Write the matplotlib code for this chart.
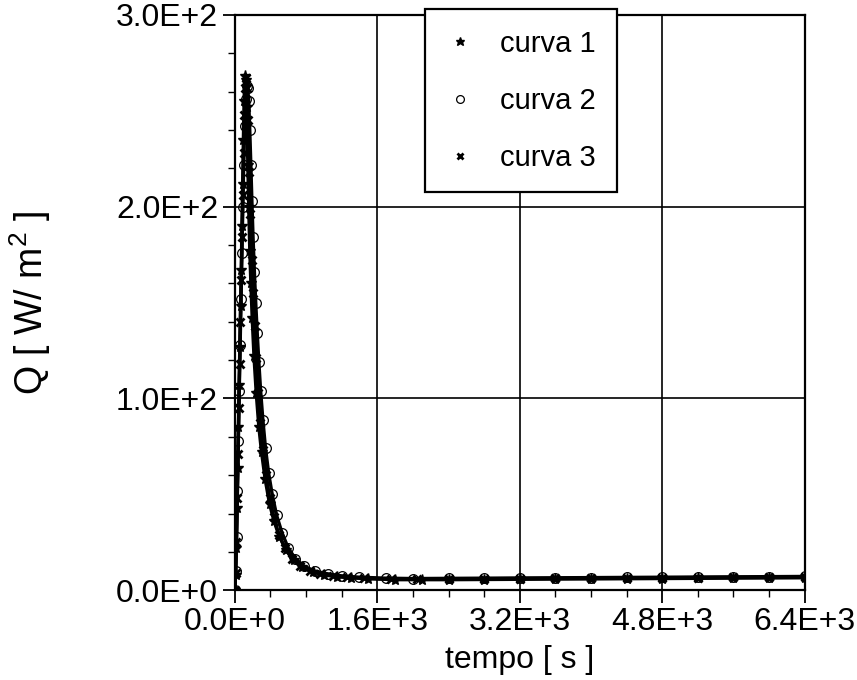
import matplotlib
matplotlib.use("Agg")
import matplotlib.pyplot as plt
from matplotlib.ticker import MultipleLocator, FuncFormatter
import math

plt.rcParams['font.family'] = ['Liberation Sans', 'DejaVu Sans']
plt.rcParams['mathtext.fontset'] = 'custom'
plt.rcParams['mathtext.rm'] = 'Liberation Sans'

# ---- data ----
t1 = [0, 8, 16, 24, 32, 40, 48, 56, 64, 72, 80, 88, 96, 104, 112, 124, 136, 146,
      156, 168, 180, 195, 215, 240, 270, 300, 340, 390, 440, 500, 580, 660, 760,
      880, 1000, 1150, 1300, 1500, 1800, 2100, 2400, 2800, 3200, 3600, 4000,
      4400, 4800, 5200, 5600, 6000, 6400]
q1 = [0, 8, 22, 43, 64, 85, 107, 127, 148, 167, 190, 212, 235, 255, 268, 266, 252, 222,
      200, 177, 160, 142, 122, 103, 85, 72, 58, 45, 36, 28, 21, 16, 12,
      9.5, 8, 7, 6.5, 6, 5.5, 5.5, 5.5, 5.6, 5.7, 5.8, 5.9,
      6.0, 6.1, 6.2, 6.3, 6.4, 6.5]

t2 = [0, 10, 20, 30, 40, 50, 60, 70, 80, 90, 100, 110, 120, 132, 144, 156, 168,
      180, 192, 205, 220, 235, 252, 270, 290, 315, 345, 380, 420, 470, 530, 600,
      680, 780, 900, 1050, 1200, 1400, 1700, 2000, 2400, 2800, 3200, 3600, 4000,
      4400, 4800, 5200, 5600, 6000, 6400]
q2 = [0, 10, 28, 52, 78, 104, 128, 152, 176, 200, 222, 242, 256, 263, 262, 255, 240,
      222, 203, 184, 166, 150, 134, 119, 104, 89, 74, 61, 50, 39, 30, 22,
      16.5, 12.5, 10, 8.5, 7.5, 6.8, 6.3, 6.1, 6.2, 6.3, 6.4, 6.5, 6.6,
      6.7, 6.8, 6.9, 7.0, 7.1, 7.2]

t3 = [0, 9, 18, 27, 36, 45, 54, 63, 72, 81, 90, 99, 108, 118, 128, 140, 152, 164,
      176, 190, 205, 222, 240, 262, 288, 318, 352, 392, 440, 495, 560, 640, 730,
      840, 960, 1100, 1260, 1450, 1750, 2050, 2400, 2800, 3200, 3600, 4000,
      4400, 4800, 5200, 5600, 6000, 6400]
q3 = [0, 9, 25, 48, 71, 95, 118, 140, 162, 184, 206, 228, 248, 262, 267, 262, 245, 218,
      196, 172, 155, 138, 121, 103, 87, 73, 60, 48, 38, 29, 22, 16.5, 12.5,
      10, 8.5, 7.5, 6.8, 6.2, 5.9, 5.8, 5.9, 6.0, 6.1, 6.2, 6.3,
      6.4, 6.5, 6.6, 6.7, 6.8, 6.9]

labels = ['curva 1', 'curva 2', 'curva 3']
x_ticks = [0, 1600, 3200, 4800, 6400]
y_ticks = [0, 100, 200, 300]

# ---- figure ----
fig = plt.figure(figsize=(8.57, 6.8), dpi=100)
ax = fig.add_axes([0.274, 0.132, 0.665, 0.846])

ax.plot(t2, q2, color='black', lw=2.4, marker='o', ms=7, mfc='none', mec='black',
        mew=0.9, label=labels[1], zorder=3)
ax.plot(t3, q3, color='black', lw=2.4, marker='x', ms=6, mew=2.0, label=labels[2], zorder=3)
ax.plot(t1, q1, color='black', lw=2.4, marker='*', ms=8, label=labels[0], zorder=4)

ax.set_xlim(0, 6400)
ax.set_ylim(0, 300)
ax.set_xticks(x_ticks)
ax.set_yticks(y_ticks)
ax.xaxis.set_minor_locator(MultipleLocator(400))
ax.yaxis.set_minor_locator(MultipleLocator(20))

def sci(v, pos):
    if v == 0:
        return '0.0E+0'
    e = int(math.floor(math.log10(abs(v))))
    m = v / 10 ** e
    return f'{m:.1f}E+{e}'

ax.xaxis.set_major_formatter(FuncFormatter(sci))
ax.yaxis.set_major_formatter(FuncFormatter(sci))

ax.grid(True, which='major', color='black', lw=1.2)
ax.tick_params(which='major', direction='out', length=9, width=1.3, labelsize=23, pad=3)
ax.tick_params(which='minor', direction='out', length=5, width=1.0)
for s in ax.spines.values():
    s.set_linewidth(1.6)
    s.set_color('black')

ax.set_xlabel('tempo [ s ]', fontsize=23, labelpad=6)
ax.set_ylabel('Q [ W/ m$^2$ ]', fontsize=27, labelpad=45)

h, l = ax.get_legend_handles_labels()
order = [2, 0, 1]
leg = ax.legend([h[i] for i in order], [l[i] for i in order], loc='upper left',
                bbox_to_anchor=(0.333, 1.01), fontsize=21, frameon=True, fancybox=False,
                edgecolor='black', framealpha=1, labelspacing=1.0, handlelength=1.0,
                handletextpad=0.9, borderpad=0.7, borderaxespad=0, markerscale=0.8)
leg.get_frame().set_linewidth(1.6)
for lh in leg.legend_handles:
    lh.set_linestyle('none')

fig.savefig('out.png', dpi=100)
